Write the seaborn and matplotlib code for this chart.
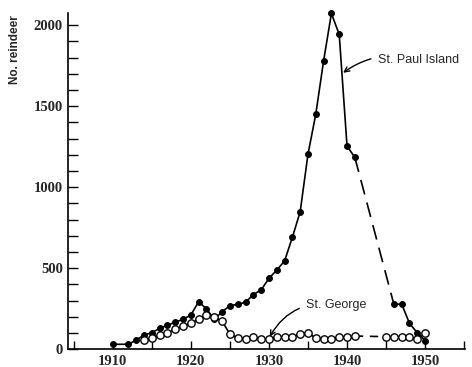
import numpy as np
import pandas as pd
import matplotlib
matplotlib.use("Agg")
import matplotlib.pyplot as plt
from matplotlib.ticker import MultipleLocator
import seaborn as sns

# St. Paul Island herd (filled circles); gap 1941 -> 1946 is dashed
paul_years = [1910, 1912, 1913, 1914, 1915, 1916, 1917, 1918, 1919, 1920,
              1921, 1922, 1923, 1924, 1925, 1926, 1927, 1928, 1929, 1930,
              1931, 1932, 1933, 1934, 1935, 1936, 1937, 1938, 1939, 1940,
              1941, 1946, 1947, 1948, 1949, 1950]
paul_counts = [31, 31, 57, 88, 102, 130, 148, 168, 185, 212,
               294, 249, 185, 232, 269, 278, 290, 338, 366, 438,
               489, 545, 691, 849, 1204, 1451, 1780, 2072, 1943, 1254,
               1184, 278, 279, 160, 102, 53]
paul_segment = [0] * 31 + [1] * 5

# St. George herd (open circles); gap 1941 -> 1945 is dashed
george_years = [1914, 1915, 1916, 1917, 1918, 1919, 1920, 1921, 1922, 1923,
                1924, 1925, 1926, 1927, 1928, 1929, 1930, 1931, 1932, 1933,
                1934, 1935, 1936, 1937, 1938, 1939, 1940, 1941,
                1945, 1946, 1947, 1948, 1949, 1950]
george_counts = [57, 72, 88, 102, 123, 144, 160, 185, 212, 202,
                 173, 94, 70, 62, 78, 62, 62, 79, 74, 78,
                 94, 102, 68, 62, 62, 74, 74, 82,
                 78, 74, 74, 74, 62, 99]
george_segment = [0] * 28 + [1] * 6

x_ticks = [1910, 1920, 1930, 1940, 1950]
y_ticks = [0, 500, 1000, 1500, 2000]

paul = pd.DataFrame({"year": paul_years, "count": paul_counts, "seg": paul_segment})
george = pd.DataFrame({"year": george_years, "count": george_counts, "seg": george_segment})

sns.set_style("ticks")
plt.rcParams["font.family"] = ["Liberation Serif", "DejaVu Serif"]

fig = plt.figure(figsize=(4.72, 3.67), dpi=100)
ax = fig.add_axes([0.1447, 0.0482, 0.8403, 0.9164])

# St. Paul
sns.lineplot(data=paul, x="year", y="count", units="seg", estimator=None,
             color="black", linewidth=1.2, marker="o", markersize=4.2,
             markerfacecolor="black", markeredgecolor="black", ax=ax, clip_on=False)
i = paul_segment.index(1)
ax.plot([paul_years[i - 1], paul_years[i]], [paul_counts[i - 1], paul_counts[i]],
        color="black", linewidth=1.2, dashes=(9, 5))

# St. George
i = george_segment.index(1)
ax.plot([george_years[i - 1], george_years[i]], [george_counts[i - 1], george_counts[i]],
        color="black", linewidth=1.2, dashes=(5, 4))
sns.lineplot(data=george, x="year", y="count", units="seg", estimator=None,
             color="black", linewidth=1.2, marker="o", markersize=5.3,
             markerfacecolor="white", markeredgecolor="black", markeredgewidth=1.0,
             ax=ax, clip_on=False)

ax.set_xlim(1904.3, 1955.1)
ax.set_ylim(0, 2075)
ax.set_xticks(x_ticks)
ax.xaxis.set_minor_locator(MultipleLocator(5))
ax.set_yticks(y_ticks)
ax.yaxis.set_minor_locator(MultipleLocator(100))
ax.tick_params(axis="both", which="both", direction="in", width=1.0, color="black")
ax.tick_params(axis="y", which="both", length=7, labelsize=10.5, pad=4)
ax.tick_params(axis="x", which="both", length=6, labelsize=10.5, pad=4)
for lab in ax.get_xticklabels() + ax.get_yticklabels():
    lab.set_fontweight("bold")
ax.set_xlabel("")
ax.set_ylabel("No. reindeer", family=["Liberation Sans", "DejaVu Sans"],
              fontsize=8.5, fontweight="bold")
ax.yaxis.set_label_coords(-0.118, 0.89)
sns.despine(ax=ax)
for s in ["left", "bottom"]:
    ax.spines[s].set_linewidth(1.2)
    ax.spines[s].set_color("black")

ax.annotate("St. Paul Island", xy=(1939.5, 1706), xytext=(1944.0, 1785),
            ha="left", va="center", fontsize=9, family=["Liberation Sans", "DejaVu Sans"],
            arrowprops=dict(arrowstyle="->", color="black", lw=1.0,
                            connectionstyle="arc3,rad=0.25", shrinkA=3, shrinkB=0))
ax.annotate("St. George", xy=(1930.1, 78), xytext=(1934.8, 273),
            ha="left", va="center", fontsize=9, family=["Liberation Sans", "DejaVu Sans"],
            arrowprops=dict(arrowstyle="->", color="black", lw=1.0,
                            connectionstyle="arc3,rad=0.35", shrinkA=3, shrinkB=0))

fig.savefig("out.png", dpi=100)
